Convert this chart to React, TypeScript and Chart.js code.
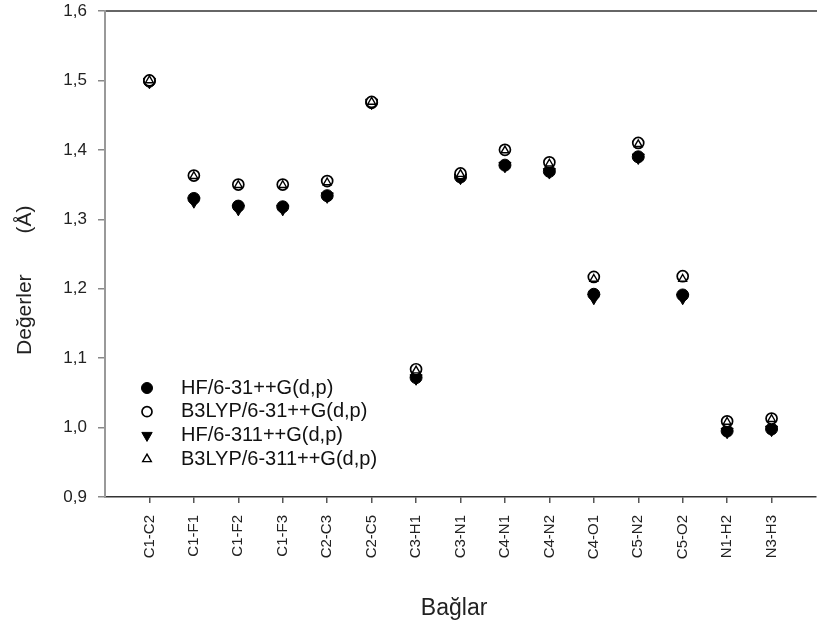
import React, { useEffect, useRef } from 'react';
import { Chart, registerables } from 'chart.js';
import { drawPoint } from 'chart.js/helpers';

Chart.register(...registerables);

// ---- data ----
const categories = [
  'C1-C2', 'C1-F1', 'C1-F2', 'C1-F3', 'C2-C3', 'C2-C5', 'C3-H1', 'C3-N1',
  'C4-N1', 'C4-N2', 'C4-O1', 'C5-N2', 'C5-O2', 'N1-H2', 'N3-H3',
];
const hf631 = [1.499, 1.330, 1.319, 1.318, 1.334, 1.468, 1.072, 1.361, 1.378, 1.369, 1.192, 1.390, 1.191, 0.995, 0.998];
const b3lyp631 = [1.500, 1.363, 1.350, 1.350, 1.355, 1.469, 1.084, 1.366, 1.400, 1.382, 1.217, 1.410, 1.218, 1.009, 1.013];
const hf6311 = [1.498, 1.326, 1.315, 1.315, 1.333, 1.468, 1.071, 1.360, 1.377, 1.368, 1.187, 1.389, 1.187, 0.994, 0.997];
const b3lyp6311 = [1.500, 1.362, 1.349, 1.349, 1.353, 1.469, 1.082, 1.365, 1.399, 1.380, 1.214, 1.408, 1.214, 1.008, 1.012];
const seriesNames = ['HF/6-31++G(d,p)', 'B3LYP/6-31++G(d,p)', 'HF/6-311++G(d,p)', 'B3LYP/6-311++G(d,p)'];
const yTickValues = [0.9, 1.0, 1.1, 1.2, 1.3, 1.4, 1.5, 1.6];
const xTitle = 'Bağlar';
const yTitle = 'Değerler';
const yUnit = '(Å)';

const FONT = '"Liberation Sans", Arial, Helvetica, sans-serif';

const toPoints = (arr: number[]) => arr.map((v, i) => ({ x: i, y: v }));

const insetLegend = {
  id: 'insetLegend',
  afterDatasetsDraw(chart: any) {
    const { ctx, chartArea } = chart;
    const markerX = chartArea.left + 42;
    const textX = chartArea.left + 76;
    const firstY = chartArea.top + 377;
    const rowH = 23.7;
    ctx.save();
    chart.data.datasets.forEach((ds: any, i: number) => {
      const y = firstY + i * rowH;
      ctx.fillStyle = ds.backgroundColor;
      ctx.strokeStyle = ds.borderColor;
      ctx.lineWidth = ds.borderWidth;
      drawPoint(ctx, {
        pointStyle: ds.pointStyle,
        radius: ds.legendRadius,
        rotation: ds.rotation || 0,
        borderWidth: ds.borderWidth,
      } as any, markerX, y);
      ctx.fillStyle = '#111';
      ctx.font = `20px ${FONT}`;
      ctx.textBaseline = 'middle';
      ctx.textAlign = 'left';
      ctx.fillText(ds.label, textX, y);
    });
    ctx.restore();
  },
};

const zeroPad = (s: any) => {
  s.paddingTop = 0;
  s.paddingBottom = 0;
  s.paddingLeft = 0;
  s.paddingRight = 0;
};

export default function App() {
  const canvasRef = useRef<HTMLCanvasElement | null>(null);

  useEffect(() => {
    const canvas = canvasRef.current;
    if (!canvas) return;
    const chart = new Chart(canvas, {
      type: 'scatter',
      data: {
        datasets: [
          {
            label: seriesNames[0],
            data: toPoints(hf631),
            pointStyle: 'circle',
            pointRadius: 6,
            backgroundColor: '#000',
            borderColor: '#000',
            borderWidth: 1,
            order: 3,
            legendRadius: 5.5,
          } as any,
          {
            label: seriesNames[1],
            data: toPoints(b3lyp631),
            pointStyle: 'circle',
            pointRadius: 5.5,
            backgroundColor: '#fff',
            borderColor: '#000',
            borderWidth: 1.7,
            order: 1,
            legendRadius: 5,
          } as any,
          {
            label: seriesNames[2],
            data: toPoints(hf6311),
            pointStyle: 'triangle',
            rotation: 180,
            pointRotation: 180,
            pointRadius: 7,
            backgroundColor: '#000',
            borderColor: '#000',
            borderWidth: 1,
            order: 2,
            legendRadius: 6,
          } as any,
          {
            label: seriesNames[3],
            data: toPoints(b3lyp6311),
            pointStyle: 'triangle',
            pointRadius: 4.5,
            backgroundColor: '#fff',
            borderColor: '#000',
            borderWidth: 1.4,
            order: 0,
            legendRadius: 5,
          } as any,
        ],
      },
      options: {
        animation: false,
        responsive: false,
        events: [],
        layout: { padding: { top: 11, left: 0, right: 0, bottom: 0 } },
        plugins: {
          legend: { display: false },
          tooltip: { enabled: false },
        },
        scales: {
          x: {
            type: 'linear',
            position: 'bottom',
            min: -1,
            max: 15,
            afterBuildTicks: (s: any) => {
              s.ticks = categories.map((_, i) => ({ value: i }));
            },
            afterFit: (s: any) => {
              s.height = 138;
              zeroPad(s);
            },
            ticks: {
              autoSkip: false,
              minRotation: 90,
              maxRotation: 90,
              padding: 12,
              color: '#222',
              font: { family: FONT, size: 15 },
              callback: (v: any) => categories[v as number] ?? '',
            },
            grid: { drawOnChartArea: false, drawTicks: true, tickLength: 6, color: '#555', lineWidth: 1.5 },
            border: { display: true, color: '#333', width: 1.5 },
            title: {
              display: true,
              text: xTitle + '  ',
              color: '#222',
              font: { family: FONT, size: 23 },
              padding: { top: 0, bottom: 13 },
            },
          },
          x2: {
            type: 'linear',
            position: 'top',
            min: -1,
            max: 15,
            afterFit: (s: any) => {
              s.height = 0;
              zeroPad(s);
            },
            ticks: { display: false },
            grid: { drawOnChartArea: false, drawTicks: false },
            border: { display: true, color: '#666', width: 2 },
          },
          y: {
            type: 'linear',
            min: 0.9,
            max: 1.6,
            afterBuildTicks: (s: any) => {
              s.ticks = yTickValues.map((v) => ({ value: v }));
            },
            afterFit: (s: any) => {
              s.width = 105;
              zeroPad(s);
            },
            ticks: {
              padding: 11,
              color: '#222',
              font: { family: FONT, size: 17 },
              callback: (v: any) => Number(v).toFixed(1).replace('.', ','),
            },
            grid: { drawOnChartArea: false, drawTicks: true, tickLength: 7, color: '#888', lineWidth: 1.5 },
            border: { display: true, color: '#999', width: 2 },
            title: {
              display: true,
              text: yTitle + '       ' + yUnit + '         ',
              color: '#222',
              font: { family: FONT, size: 21 },
              padding: { top: 13, bottom: 0 },
            },
          },
        },
      } as any,
      plugins: [insetLegend],
    });
    return () => chart.destroy();
  }, []);

  return (
    <div style={{ position: 'fixed', left: 0, top: 0, width: 824, height: 635, background: '#fff' }}>
      <canvas ref={canvasRef} width={824} height={635} style={{ display: 'block' }} />
    </div>
  );
}
